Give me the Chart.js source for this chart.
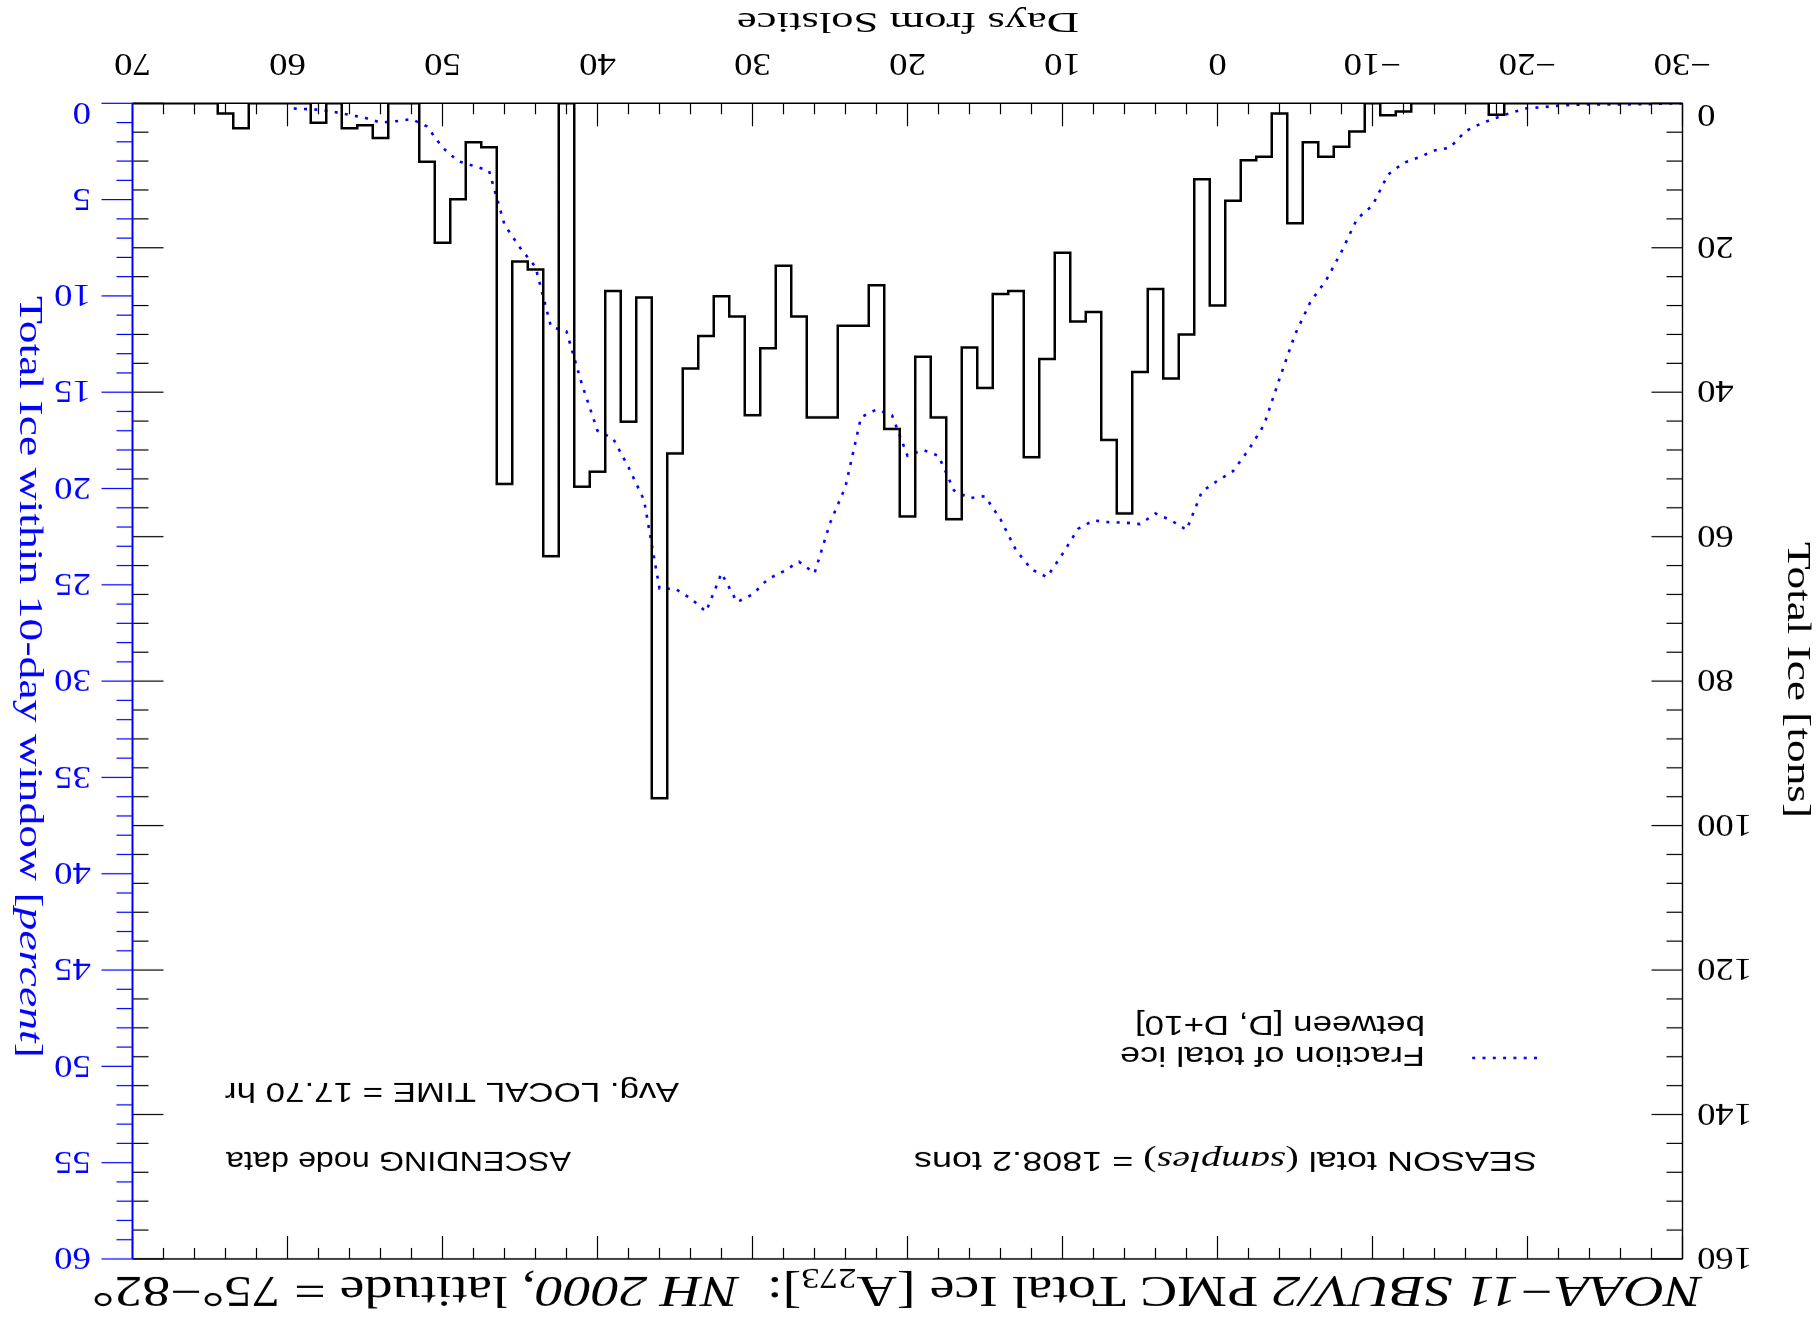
<!DOCTYPE html>
<html>
<head>
<meta charset="utf-8">
<script src="https://cdn.jsdelivr.net/npm/chart.js@4.4.0/dist/chart.umd.min.js"></script>
<style>
html, body { margin: 0; padding: 0; background: #fff; overflow: hidden; }
#wrap { width: 1819px; height: 1320px; transform: rotate(180deg); }
canvas { display: block; }
</style>
</head>
<body>
<div id="wrap"><canvas id="iceChart" width="1819" height="1320"></canvas></div>
<script>
// days from solstice, one bin per day
const days = [-30, -29, -28, -27, -26, -25, -24, -23, -22, -21,
    -20, -19, -18, -17, -16, -15, -14, -13, -12, -11,
    -10, -9, -8, -7, -6, -5, -4, -3, -2, -1,
    0, 1, 2, 3, 4, 5, 6, 7, 8, 9,
    10, 11, 12, 13, 14, 15, 16, 17, 18, 19,
    20, 21, 22, 23, 24, 25, 26, 27, 28, 29,
    30, 31, 32, 33, 34, 35, 36, 37, 38, 39,
    40, 41, 42, 43, 44, 45, 46, 47, 48, 49,
    50, 51, 52, 53, 54, 55, 56, 57, 58, 59,
    60, 61, 62, 63, 64, 65, 66, 67, 68, 69, 70]

// total ice per day [tons]
const tons = [0, 0, 0, 0, 0, 0, 0, 0, 0, 0,
    0, 0, 1.6, 0, 0, 0, 0, 0, 1.15, 1.65,
    0, 3.9, 6.0, 7.4, 5.4, 16.6, 1.4, 7.4, 7.9, 13.5,
    28.0, 10.5, 32.0, 38.1, 25.7, 37.2, 56.8, 46.6, 28.9, 30.2,
    20.7, 35.4, 49.0, 26.0, 26.4, 39.4, 33.8, 57.6, 43.5, 35.1,
    57.2, 45.1, 25.2, 30.8, 30.8, 43.5, 43.5, 29.5, 22.5, 33.9,
    43.2, 29.5, 26.7, 32.2, 36.7, 48.5, 96.2, 26.9, 44.1, 26.0,
    51.0, 53.1, 0, 62.7, 23.0, 21.9, 52.7, 6.1, 5.4, 13.3,
    19.3, 8.1, 0, 0, 4.8, 3.05, 3.45, 0, 2.7, 0,
    0, 0, 0, 3.45, 1.4, 0, 0, 0, 0, 0, 0]

// fraction of total ice between [D, D+10] [percent]
const fracPct = [0.0, 0.01, 0.04, 0.05, 0.06, 0.06, 0.06, 0.07, 0.13, 0.2,
    0.25, 0.47, 0.75, 1.05, 1.45, 2.3, 2.45, 2.8, 3.1, 3.7,
    5.3, 6.0, 7.7, 9.2, 10.3, 12.0, 14.3, 16.7, 18.0, 19.1,
    19.6, 20.15, 22.15, 21.65, 21.3, 21.85, 21.77, 21.75, 21.66, 22.1,
    23.4, 24.6, 24.2, 23.2, 21.6, 20.4, 20.5, 20.1, 18.3, 18.0,
    18.3, 16.2, 15.9, 16.3, 19.9, 21.8, 24.4, 23.8, 24.3, 24.7,
    25.5, 25.9, 24.4, 26.4, 25.7, 25.2, 25.2, 20.6, 18.9, 17.4,
    17.0, 14.6, 11.85, 11.6, 8.5, 7.5, 6.3, 3.5, 3.25, 3.0,
    2.3, 1.2, 0.82, 0.93, 1.0, 0.75, 0.6, 0.45, 0.33, 0.29,
    0.26, null, null, null, null, null, null, null, null, null, null]

const dayTicks = [-30, -20, -10, 0, 10, 20, 30, 40, 50, 60, 70]
const dayTickLabels = ['\u221230', '\u221220', '\u221210', '0', '10', '20', '30', '40', '50', '60', '70']
const tonTicks = [0, 20, 40, 60, 80, 100, 120, 140, 160]
const pctTicks = [0, 5, 10, 15, 20, 25, 30, 35, 40, 45, 50, 55, 60]

const SERIF = '"Liberation Serif", "DejaVu Serif", serif'
const SANS = '"Liberation Sans", "DejaVu Sans", sans-serif'
const BLUE = '#0000ff'

// draws a run of text pieces, squeezed or stretched to a given width
function richText(ctx, segs, x, y, opts) {
    ctx.save()
    let w = 0
    segs.forEach(s => { ctx.font = s.font; s.w = ctx.measureText(s.t).width; w += s.w })
    const sx = opts.width ? opts.width / w : (opts.sx || 1)
    ctx.translate(x, y)
    if (opts.rot) ctx.rotate(opts.rot)
    ctx.scale(sx, 1)
    let cx = opts.align === 'right' ? -w : opts.align === 'center' ? -w / 2 : 0
    ctx.fillStyle = opts.color || '#000'
    ctx.textBaseline = 'alphabetic'
    segs.forEach(s => {
        ctx.font = s.font
        ctx.fillText(s.t, cx, s.dy || 0)
        cx += s.w
    })
    ctx.restore()
}

function line(ctx, x1, y1, x2, y2) {
    ctx.beginPath()
    ctx.moveTo(x1, y1)
    ctx.lineTo(x2, y2)
    ctx.stroke()
}

const framePlugin = {
    id: 'frame',
    afterDatasetsDraw(chart) {
        const ctx = chart.ctx
        const a = chart.chartArea
        const sx = chart.scales.x, sy = chart.scales.y, sp = chart.scales.yp
        ctx.save()
        ctx.lineCap = 'butt'

        // frame
        ctx.strokeStyle = '#000'
        ctx.lineWidth = 1.4
        line(ctx, a.left, a.top, a.right, a.top)
        line(ctx, a.left, a.bottom, a.right, a.bottom)
        line(ctx, a.left, a.top, a.left, a.bottom)

        // day ticks, top and bottom
        ctx.lineWidth = 1.2
        for (let d = -30; d <= 70; d += 2) {
            const px = sx.getPixelForValue(d)
            const len = d % 10 === 0 ? 23 : 11
            line(ctx, px, a.bottom, px, a.bottom - len)
            line(ctx, px, a.top, px, a.top + len)
        }
        // ton ticks, inward on both sides
        for (let t = 0; t <= 160; t += 4) {
            const py = sy.getPixelForValue(t)
            const len = t % 20 === 0 ? 31 : 16
            line(ctx, a.left, py, a.left + len, py)
            line(ctx, a.right, py, a.right - len, py)
        }
        // percent axis, outward, blue
        ctx.strokeStyle = BLUE
        ctx.lineWidth = 2
        line(ctx, a.right, a.top, a.right, a.bottom)
        ctx.lineWidth = 1.2
        for (let p = 0; p <= 60; p += 1) {
            const py = sp.getPixelForValue(p)
            const len = p % 5 === 0 ? 31 : 16
            line(ctx, a.right, py, a.right + len, py)
        }

        // tick labels
        const tf = '32px ' + SERIF
        dayTicks.forEach((d, i) => {
            richText(ctx, [{ t: dayTickLabels[i], font: tf }], sx.getPixelForValue(d), 1266, { align: 'center', sx: 1.15 })
        })
        tonTicks.forEach(t => {
            const y = sy.getPixelForValue(t) + (t === 0 ? -13 : 0) + 10.8
            richText(ctx, [{ t: String(t), font: tf }], a.left - 14.5, y, { align: 'right', sx: 1.15 })
        })
        pctTicks.forEach(p => {
            const y = sp.getPixelForValue(p) + (p === 0 ? -11 : 0) + 10.8
            richText(ctx, [{ t: String(p), font: tf }], a.right + 41.5, y, { align: 'left', sx: 1.15, color: BLUE })
        })

        // axis titles
        richText(ctx, [{ t: 'Days from Solstice', font: '30px ' + SERIF }], 911, 1307, { align: 'center', width: 342 })
        richText(ctx, [{ t: 'Total Ice [tons]', font: '34px ' + SERIF }], 31, 640, { align: 'center', width: 276, rot: -Math.PI / 2 })
        richText(ctx, [
            { t: 'Total Ice within 10-day window [', font: '34px ' + SERIF },
            { t: 'percent', font: 'italic 34px ' + SERIF },
            { t: ']', font: '34px ' + SERIF }
        ], 1799, 643, { align: 'center', width: 762, rot: -Math.PI / 2, color: BLUE })

        // title
        const it = 'italic 44px ' + SERIF, rm = '44px ' + SERIF
        richText(ctx, [
            { t: 'NOAA\u221211 SBUV/2', font: it },
            { t: ' PMC Total Ice [A', font: rm },
            { t: '273', font: '29px ' + SERIF, dy: 8 },
            { t: ']:  ', font: rm },
            { t: 'NH 2000', font: it },
            { t: ', latitude = 75\u00b0\u221282\u00b0', font: rm }
        ], 117, 43, { align: 'left', width: 1610 })

        // annotations
        const sf = '27px ' + SANS
        richText(ctx, [
            { t: 'SEASON total ', font: sf },
            { t: '(', font: '30px ' + SERIF },
            { t: 'samples', font: 'italic 30px ' + SERIF },
            { t: ')', font: '30px ' + SERIF },
            { t: ' = 1808.2 tons', font: sf }
        ], 282, 168.3, { align: 'left', width: 623 })
        richText(ctx, [{ t: 'ASCENDING node data', font: sf }], 1593, 168, { align: 'right', width: 345 })
        richText(ctx, [{ t: 'Avg. LOCAL TIME = 17.70 hr', font: sf }], 1594, 236.7, { align: 'right', width: 454 })

        // legend
        ctx.strokeStyle = BLUE
        ctx.lineWidth = 2.6
        ctx.setLineDash([3, 7.3])
        line(ctx, 282, 262, 352, 262)
        ctx.setLineDash([])
        richText(ctx, [{ t: 'Fraction of total ice', font: sf }], 394, 273.3, { align: 'left', width: 305 })
        richText(ctx, [{ t: 'between [D, D+10]', font: sf }], 394, 304, { align: 'left', width: 290 })

        ctx.restore()
    }
}

const ctx = document.getElementById('iceChart').getContext('2d')
const chart = new Chart(ctx, {
    type: 'line',
    data: {
        datasets: [{
            label: 'Total Ice',
            data: days.map((d, i) => ({ x: d, y: tons[i] })),
            yAxisID: 'y',
            borderColor: '#000',
            borderWidth: 2.5,
            stepped: 'middle',
            pointRadius: 0,
            fill: false
        }, {
            label: 'Fraction of total ice between [D, D+10]',
            data: days.map((d, i) => ({ x: d, y: fracPct[i] })),
            yAxisID: 'yp',
            borderColor: BLUE,
            borderWidth: 2.6,
            borderDash: [3, 7.3],
            pointRadius: 0,
            tension: 0,
            fill: false
        }]
    },
    options: {
        responsive: false,
        animation: false,
        events: [],
        layout: { padding: { left: 136.5, right: 132.5, top: 61, bottom: 103.3 } },
        plugins: { legend: { display: false }, tooltip: { enabled: false } },
        scales: {
            x: { type: 'linear', min: -30, max: 70, display: false },
            y: { type: 'linear', min: 0, max: 160, display: false },
            yp: { type: 'linear', min: 0, max: 60, display: false, position: 'right' }
        }
    },
    plugins: [framePlugin]
})
</script>
</body>
</html>
